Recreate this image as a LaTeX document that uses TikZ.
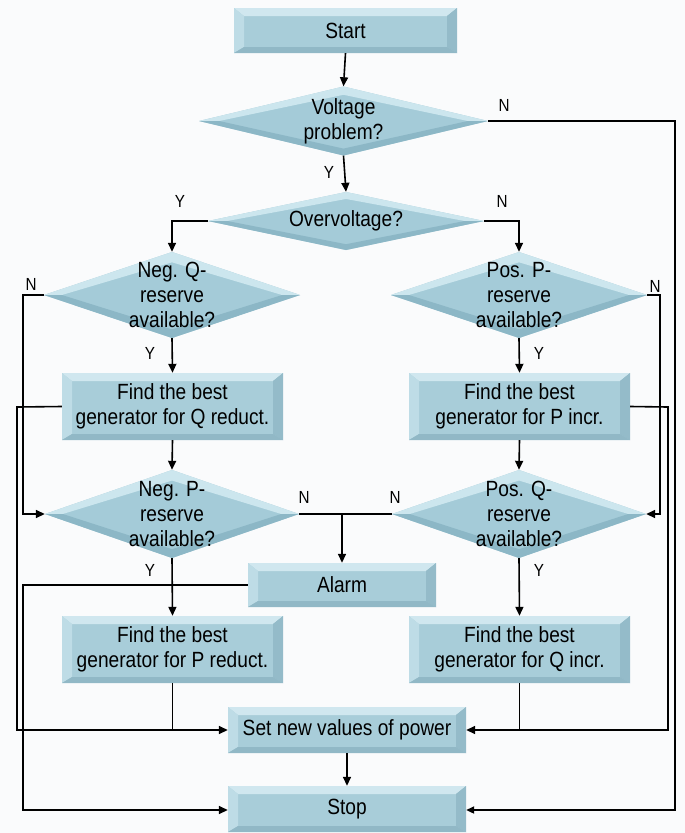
\documentclass[tikz,border=0pt]{standalone}
\usepackage{fontspec}
\setmainfont[FakeStretch=0.87]{Liberation Sans}
\usetikzlibrary{arrows.meta,calc}
\definecolor{bgc}{RGB}{250,251,252}
\definecolor{bface}{RGB}{168,205,217}
\definecolor{btop}{RGB}{208,231,239}
\definecolor{bleft}{RGB}{190,220,230}
\definecolor{bright}{RGB}{148,187,201}
\definecolor{bbot}{RGB}{145,184,198}
\definecolor{dface}{RGB}{164,203,216}
\definecolor{dtop}{RGB}{204,230,238}
\definecolor{dbot}{RGB}{140,183,198}
\newcommand\boxfont{\fontsize{22}{25}\selectfont}
\newcommand\lblfont{\fontsize{17.5}{19}\selectfont}
\begin{document}
\begin{tikzpicture}[x=1pt,y=-1pt,
  bevelbox/.style={rectangle, inner sep=0pt, align=center, font=\boxfont,
    path picture={
      \path (path picture bounding box.north west) coordinate (pnw)
            (path picture bounding box.north east) coordinate (pne)
            (path picture bounding box.south west) coordinate (psw)
            (path picture bounding box.south east) coordinate (pse);
      \fill[bface] (pnw) rectangle (pse);
      \fill[btop] (pnw) -- (pne) -- ([shift={(-10pt,-8pt)}]pne) -- ([shift={(10pt,-8pt)}]pnw) -- cycle;
      \fill[bleft] (pnw) -- ([shift={(10pt,-8pt)}]pnw) -- ([shift={(10pt,6pt)}]psw) -- (psw) -- cycle;
      \fill[bright] (pne) -- ([shift={(-10pt,-8pt)}]pne) -- ([shift={(-10pt,6pt)}]pse) -- (pse) -- cycle;
      \fill[bbot] (psw) -- ([shift={(10pt,6pt)}]psw) -- ([shift={(-10pt,6pt)}]pse) -- (pse) -- cycle;
    }},
  dia/.style={rectangle, inner sep=0pt, align=center, font=\boxfont,
    path picture={
      \path (path picture bounding box.center) coordinate (pc)
            (path picture bounding box.north) coordinate (pn)
            (path picture bounding box.south) coordinate (ps)
            (path picture bounding box.east) coordinate (pe)
            (path picture bounding box.west) coordinate (pw);
      \fill[dface] (pn) -- (pe) -- (ps) -- (pw) -- cycle;
      \fill[dtop] (pw) -- (pn) -- (pe) -- ($(pc)!0.86!(pe)$) -- ($(pc)!0.76!(pn)$) -- ($(pc)!0.86!(pw)$) -- cycle;
      \fill[dbot] (pw) -- (ps) -- (pe) -- ($(pc)!0.86!(pe)$) -- ($(pc)!0.8!(ps)$) -- ($(pc)!0.86!(pw)$) -- cycle;
    }},
  lbl/.style={font=\lblfont, inner sep=0pt},
  conn/.style={line width=1.6pt, black},
  arr/.style={conn, -{Triangle[length=9pt,width=8pt]}},
  thickconn/.style={line width=2.4pt, black, -{Triangle[length=8pt,width=7pt]}}
]
\fill[bgc] (0,0) rectangle (685,833);
\useasboundingbox (0,0) rectangle (685,833);

% nodes
\node[bevelbox, minimum width=223pt, minimum height=45pt] (start) at (345.5,30.5) {Start};
\node[dia, minimum width=289pt, minimum height=69pt] (volt) at (343.5,121) {Voltage\\problem?};
\node[dia, minimum width=276pt, minimum height=58pt] (over) at (346,221) {Overvoltage?};
\node[dia, minimum width=256pt, minimum height=86pt] (negQ) at (172,295) {Neg. Q-\\reserve\\available?};
\node[dia, minimum width=256pt, minimum height=86pt] (posP) at (519,295) {Pos. P-\\reserve\\available?};
\node[bevelbox, minimum width=221pt, minimum height=67pt] (findQr) at (172.5,406.5) {Find the best\\generator for Q reduct.};
\node[bevelbox, minimum width=221pt, minimum height=67pt] (findPi) at (519.5,406.5) {Find the best\\generator for P incr.};
\node[dia, minimum width=254pt, minimum height=88pt] (negP) at (172,514) {Neg. P-\\reserve\\available?};
\node[dia, minimum width=254pt, minimum height=88pt] (posQ) at (519,514) {Pos. Q-\\reserve\\available?};
\node[bevelbox, minimum width=188pt, minimum height=44pt] (alarm) at (342,585) {Alarm};
\node[bevelbox, minimum width=221pt, minimum height=67pt] (findPr) at (172.5,649.5) {Find the best\\generator for P reduct.};
\node[bevelbox, minimum width=221pt, minimum height=67pt] (findQi) at (519.5,649.5) {Find the best\\generator for Q incr.};
\node[bevelbox, minimum width=238pt, minimum height=46pt] (setp) at (347,730) {Set new values of power};
\node[bevelbox, minimum width=238pt, minimum height=46pt] (stop) at (347,809) {Stop};

% labels
\node[lbl] (lvN) at (504,105) {N};
\node[lbl] (lvY) at (329,172) {Y};
\node[lbl] (loY) at (180,201) {Y};
\node[lbl] (loN) at (502,201) {N};
\node[lbl] (lnqN) at (31,284) {N};
\node[lbl] (lnqY) at (150,353) {Y};
\node[lbl] (lppN) at (655,286) {N};
\node[lbl] (lppY) at (539,353) {Y};
\node[lbl] (lnpN) at (304,497) {N};
\node[lbl] (lpqN) at (395,497) {N};
\node[lbl] (lnpY) at (150,570) {Y};
\node[lbl] (lpqY) at (539,570) {Y};

% connectors
\draw[arr] (start.south) -- (volt.north);
\draw[arr] (volt.south) -- (over.north);
\draw[thickconn] (volt.east) -- (675,121) -- (675,810) -- (stop.east |- 0,810);
\draw[arr] (over.west) -| (negQ.north);
\draw[arr] (over.east) -| (posP.north);
\draw[arr] (negQ.south) -- (findQr.north);
\draw[arr] (posP.south) -- (findPi.north);
\draw[arr] (negQ.west) -- (23,295) -- (23,514) -- (negP.west);
\draw[arr] (posP.east) -- (660,295) -- (660,514) -- (posQ.east);
\draw[arr] (findQr.west) -- (17,407) -- (17,730) -- (setp.west);
\draw[arr] (findPi.east) -- (668,407) -- (668,730) -- (setp.east);
\draw[arr] (findQr.south) -- (negP.north);
\draw[arr] (findPi.south) -- (posQ.north);
\draw[conn] (negP.east) -- (posQ.west);
\coordinate (jn) at (alarm.north |- negP.east);
\draw[arr] (jn) -- (alarm.north);
\draw[arr] (negP.south) -- (findPr.north);
\draw[arr] (posQ.south) -- (findQi.north);
\draw[conn] (findPr.south) -- (findPr.south |- setp.west);
\draw[conn] (findQi.south) -- (findQi.south |- setp.east);
\draw[arr] (alarm.west) -- (23,585) -- (23,810) -- (stop.west |- 0,810);
\draw[arr] (setp.south) -- (stop.north);
\end{tikzpicture}
\end{document}
